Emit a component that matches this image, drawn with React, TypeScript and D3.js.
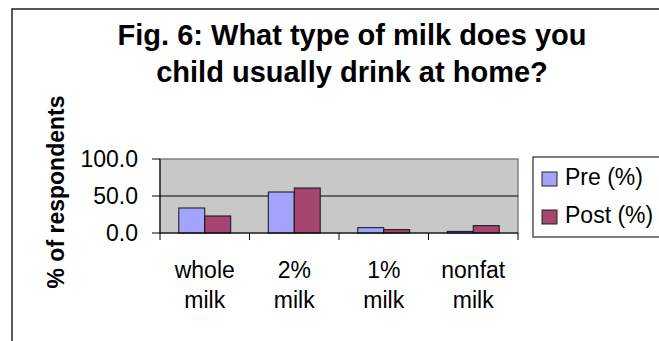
import React from "react";
import * as d3 from "d3";

const categories: string[][] = [["whole", "milk"], ["2%", "milk"], ["1%", "milk"], ["nonfat", "milk"]];
const categoryKeys: string[] = ["whole milk", "2% milk", "1% milk", "nonfat milk"];
const preValues: number[] = [33.8, 55.4, 7.2, 2.2];
const postValues: number[] = [23.0, 60.8, 4.5, 9.9];
const yTicks: number[] = [0, 50, 100];
const seriesNames: string[] = ["Pre (%)", "Post (%)"];
const seriesColors: string[] = ["#a4a4ff", "#a4466f"];
const titleLines: string[] = ["Fig. 6: What type of milk does you", "child usually drink at home?"];

export default function App() {
  const W = 659, H = 341;
  const plotL = 160, plotR = 518, plotT = 159, plotB = 233;
  const y = d3.scaleLinear().domain([0, 100]).range([plotB, plotT]);
  const x = d3.scaleBand<string>().domain(categoryKeys).range([plotL, plotR]).paddingInner(0).paddingOuter(0);
  const bw = x.bandwidth() * 0.29;
  const font = "'Liberation Sans', Arial, sans-serif";
  const series = [preValues, postValues];

  return (
    <svg width={W} height={H} style={{ position: "absolute", left: 0, top: 0, background: "#fff" }} fontFamily={font}>
      <rect x={12} y={9} width={720} height={420} fill="#fff" stroke="#222" strokeWidth={1.5} />
      {titleLines.map((t, i) => (
        <text key={i} x={352} y={45 + i * 37} textAnchor="middle" fontSize={29} fontWeight="bold" fill="#000">{t}</text>
      ))}
      <text transform={`translate(64,${192}) rotate(-90)`} textAnchor="middle" fontSize={23} fontWeight="bold" fill="#000">% of respondents</text>

      <rect x={plotL} y={plotT} width={plotR - plotL} height={plotB - plotT} fill="#c8c8c8" stroke="#808080" strokeWidth={1.5} />
      {yTicks.filter(v => v > 0 && v < 100).map(v => (
        <line key={v} x1={plotL} x2={plotR} y1={y(v)} y2={y(v)} stroke="#000" strokeWidth={1} />
      ))}
      {series.map((vals, s) =>
        vals.map((v, i) => {
          const x0 = (x(categoryKeys[i]) as number) + (x.bandwidth() - 2 * bw) / 2 + s * bw;
          return (
            <rect key={`${s}-${i}`} x={x0} y={y(v)} width={bw} height={plotB - y(v)} fill={seriesColors[s]} stroke="#111" strokeWidth={1} />
          );
        })
      )}
      <line x1={plotL} x2={plotL} y1={plotT} y2={plotB} stroke="#000" strokeWidth={1} />
      <line x1={plotL} x2={plotR} y1={plotB} y2={plotB} stroke="#000" strokeWidth={1} />
      {yTicks.map(v => (
        <g key={v}>
          <line x1={plotL - 8} x2={plotL} y1={y(v)} y2={y(v)} stroke="#000" strokeWidth={1} />
          <text x={138} y={y(v)} dy="0.35em" textAnchor="end" fontSize={23} fill="#000">{v.toFixed(1)}</text>
        </g>
      ))}
      {[...categoryKeys.map(c => x(c) as number), plotR].map((px, i) => (
        <line key={i} x1={px} x2={px} y1={plotB} y2={plotB + 7} stroke="#000" strokeWidth={1} />
      ))}
      {categories.map((lines, i) => {
        const cx = (x(categoryKeys[i]) as number) + x.bandwidth() / 2;
        return lines.map((l, j) => (
          <text key={`${i}-${j}`} x={cx} y={278 + j * 30} textAnchor="middle" fontSize={23} fill="#000">{l}</text>
        ));
      })}

      <rect x={533} y={157} width={140} height={80} fill="#fff" stroke="#555" strokeWidth={1.5} />
      {seriesNames.map((n, i) => (
        <g key={n}>
          <rect x={542} y={172 + i * 38} width={15} height={14} fill={seriesColors[i]} stroke="#222" strokeWidth={1} />
          <text x={565} y={185 + i * 38} fontSize={23} fill="#000">{n}</text>
        </g>
      ))}
    </svg>
  );
}
